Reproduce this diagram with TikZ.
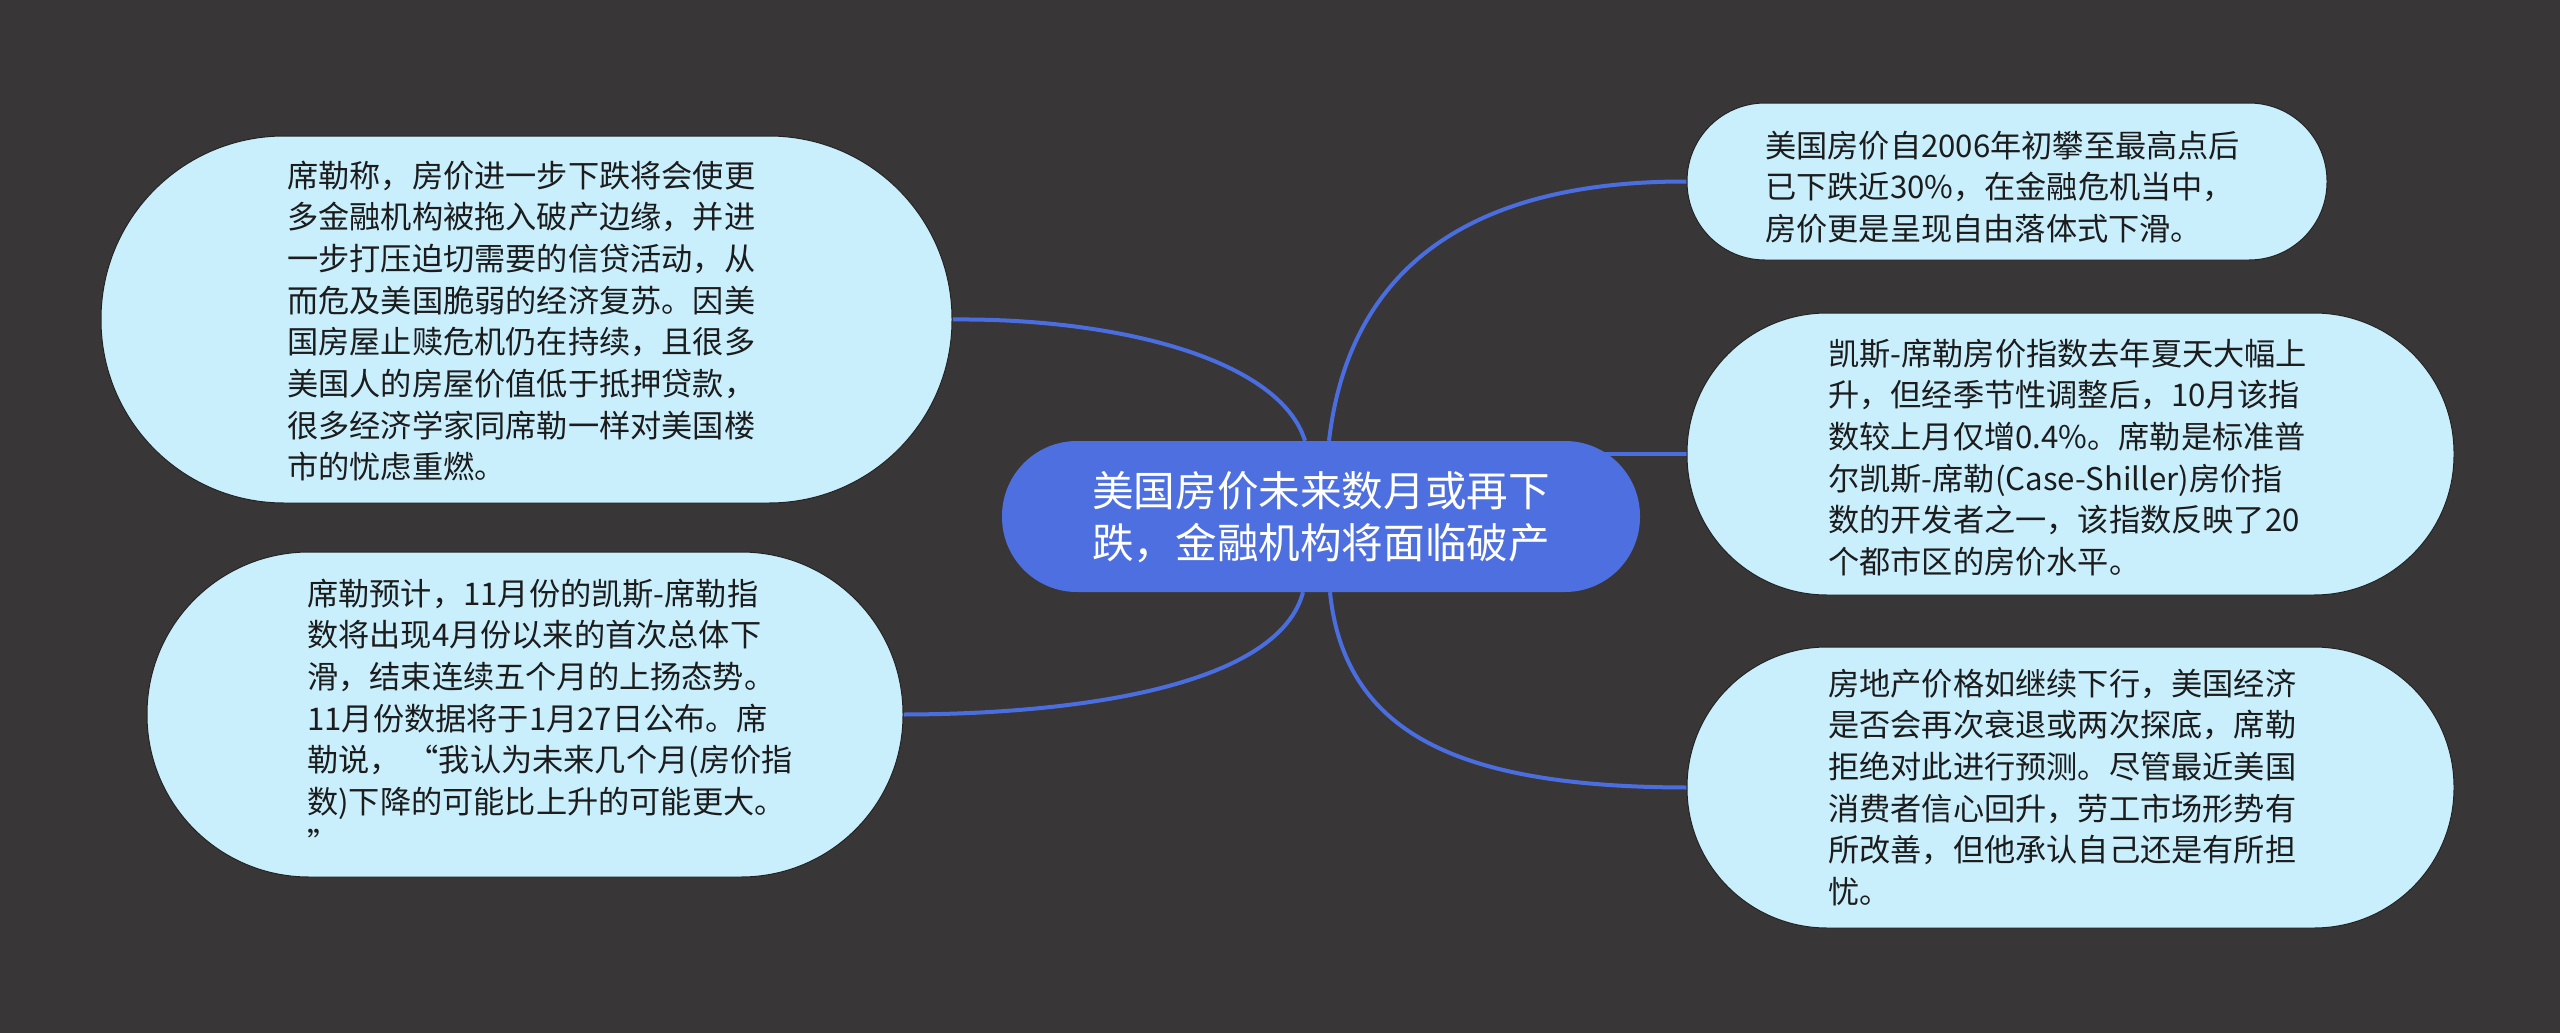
\documentclass[tikz,border=0pt]{standalone}
\usepackage{fontspec}
\setmainfont{Noto Sans CJK SC}
\usetikzlibrary{calc}
\definecolor{bgc}{RGB}{57,54,55}
\definecolor{leaf}{RGB}{201,238,252}
\definecolor{rootc}{RGB}{78,111,224}
\definecolor{linkc}{RGB}{74,110,223}
\definecolor{txt}{RGB}{28,28,28}
\definecolor{edgec}{RGB}{35,35,35}
\newcommand\zst{\rule[-0.12em]{0pt}{1em}}
\pgfdeclarelayer{bglayer}
\pgfdeclarelayer{edgelayer}
\pgfsetlayers{bglayer,edgelayer,main}
\begin{document}
\begin{tikzpicture}[x=1pt,y=-1pt,
  leafbox/.style={draw=edgec,line width=1pt,fill=leaf,inner sep=0pt,rectangle},
  rootbox/.style={fill=rootc,inner sep=0pt,rectangle,text=white,align=center,
    font=\fontsize{41.6pt}{52pt}\selectfont},
  leaftext/.style={anchor=north west,inner sep=0pt,align=left,text=txt,
    font=\fontsize{31.2pt}{41.7pt}\selectfont},
  link/.style={draw=linkc,line width=4pt}]
\useasboundingbox (0,0) rectangle (2560,1033);
\begin{pgfonlayer}{bglayer}
  \fill[bgc] (0,0) rectangle (2560,1033);
\end{pgfonlayer}

% nodes
\node[rootbox,minimum width=638pt,minimum height=151pt,rounded corners=75pt] (c) at (1321,516.5)
  {\zst 美国房价未来数月或再下\\\zst 跌，金融机构将面临破产};
\node[leafbox,minimum width=851pt,minimum height=367pt,rounded corners=183pt] (l1) at (526.5,319.5) {};
\node[leafbox,minimum width=756pt,minimum height=325pt,rounded corners=162pt] (l2) at (525,714.5) {};
\node[leafbox,minimum width=640pt,minimum height=157pt,rounded corners=78pt] (r1) at (2007,181.5) {};
\node[leafbox,minimum width=767pt,minimum height=282pt,rounded corners=140pt] (r2) at (2070.5,454) {};
\node[leafbox,minimum width=767pt,minimum height=281pt,rounded corners=140pt] (r3) at (2070.5,787.5) {};

% texts
\node[leaftext] (l1t) at (287,159.4) {\zst 席勒称，房价进一步下跌将会使更\\
多金融机构被拖入破产边缘，并进\\
一步打压迫切需要的信贷活动，从\\
而危及美国脆弱的经济复苏。因美\\
国房屋止赎危机仍在持续，且很多\\
美国人的房屋价值低于抵押贷款，\\
很多经济学家同席勒一样对美国楼\\
\zst 市的忧虑重燃。};
\node[leaftext] (l2t) at (307,577.4) {\zst 席勒预计，11月份的凯斯-席勒指\\
数将出现4月份以来的首次总体下\\
滑，结束连续五个月的上扬态势。\\
11月份数据将于1月27日公布。席\\
勒说， “我认为未来几个月(房价指\\
数)下降的可能比上升的可能更大。\\
\zst ”};
\node[leaftext] (r1t) at (1765,129.4) {\zst 美国房价自2006年初攀至最高点后\\
已下跌近30\%，在金融危机当中，\\
\zst 房价更是呈现自由落体式下滑。};
\node[leaftext] (r2t) at (1828,337.4) {\zst 凯斯-席勒房价指数去年夏天大幅上\\
升，但经季节性调整后，10月该指\\
数较上月仅增0.4\%。席勒是标准普\\
尔凯斯-席勒(Case-Shiller)房价指\\
数的开发者之一，该指数反映了20\\
\zst 个都市区的房价水平。};
\node[leaftext] (r3t) at (1828,667.4) {\zst 房地产价格如继续下行，美国经济\\
是否会再次衰退或两次探底，席勒\\
拒绝对此进行预测。尽管最近美国\\
消费者信心回升，劳工市场形势有\\
所改善，但他承认自己还是有所担\\
\zst 忧。};

% connectors
\begin{pgfonlayer}{edgelayer}
  \draw[link] ($(c.north)+(-16,0)$) .. controls (1280,360) and (1120,318) .. (l1.east);
  \draw[link] ($(c.south)+(-18,0)$) .. controls (1280,680) and (1100,714) .. (l2.east);
  \draw[link] ($(c.north)+(8,0)$) .. controls (1350,260) and (1480,181) .. (r1.west);
  \draw[link] ($(c.south)+(9,0)$) .. controls (1345,740) and (1470,787) .. (r3.west);
  \draw[link] (r2.west -| c.center) -- (r2.west);
\end{pgfonlayer}
\end{tikzpicture}
\end{document}
